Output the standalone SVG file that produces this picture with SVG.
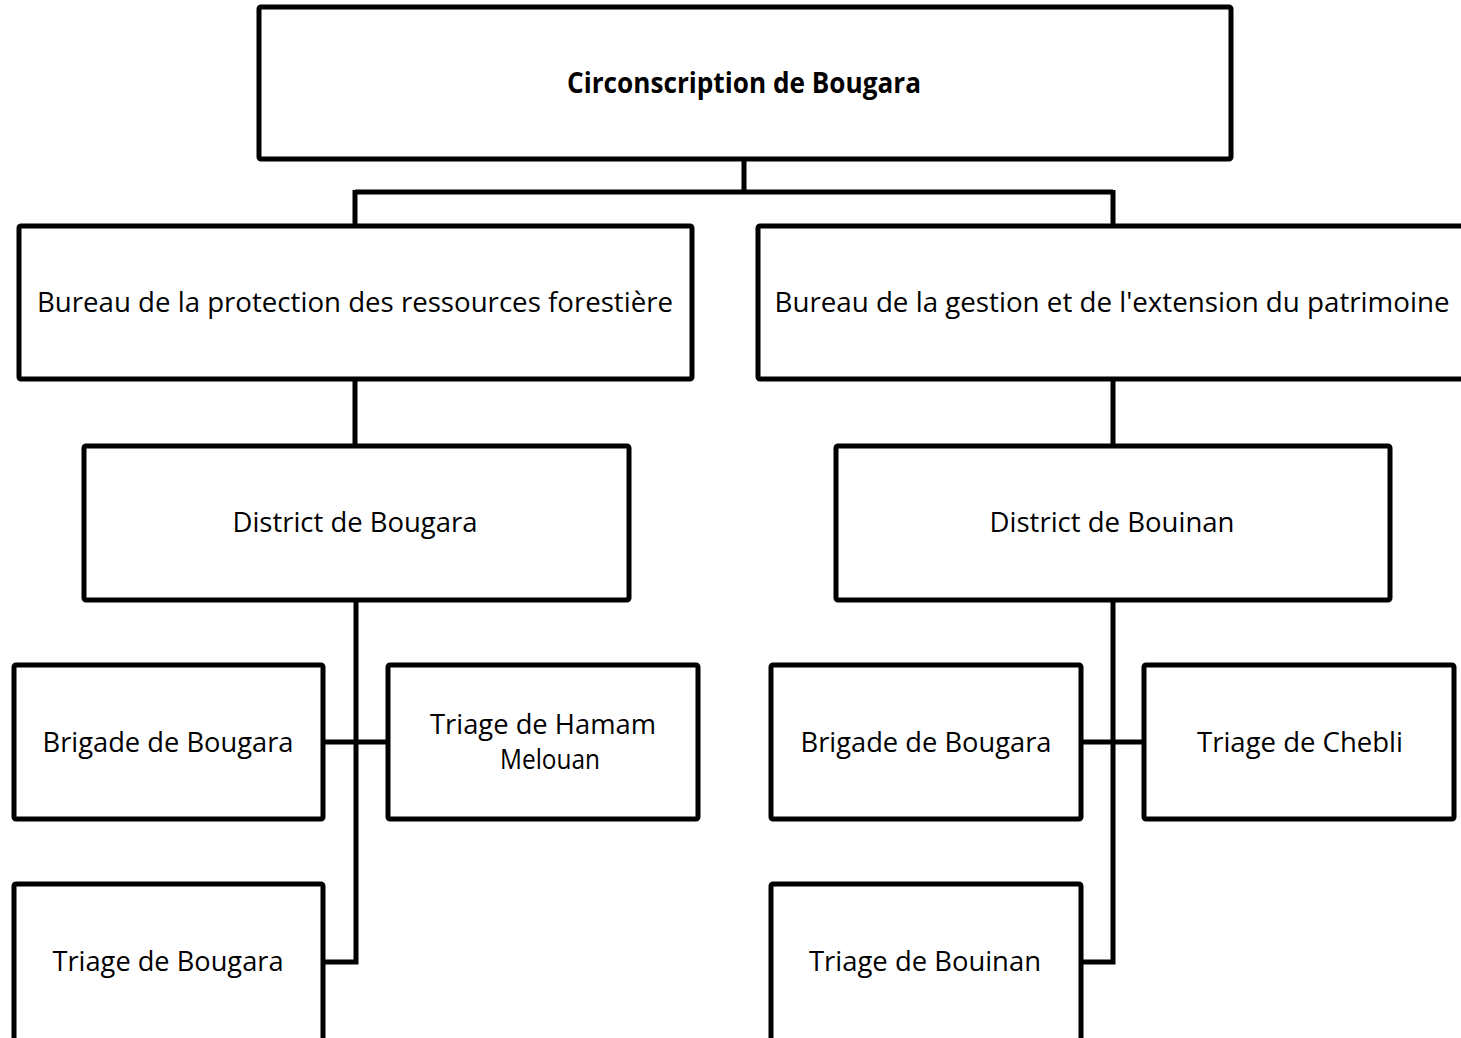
<svg xmlns="http://www.w3.org/2000/svg" width="1461" height="1038" viewBox="0 0 1461 1038">
  <style>
    .box { fill: #ffffff; stroke: #000000; stroke-width: 5; stroke-linejoin: round; }
    .link { fill: none; stroke: #000000; stroke-width: 5; stroke-linejoin: miter; }
    .lbl { font-family: "Open Sans", "Noto Sans", "Liberation Sans", sans-serif; font-size: 28px; fill: #000000; text-anchor: middle; }
    .bold { font-weight: bold; }
  </style>
  <rect x="0" y="0" width="1461" height="1038" fill="#ffffff"/>

  <!-- connectors -->
  <g id="connectors">
    <path class="link" d="M744 160 V192 M355 192 H1113 M355 190 V227 M1113 190 V227"/>
    <path class="link" d="M355 380 V445 M1113 380 V445"/>
    <path class="link" d="M356 600 V962 H323 M323 742 H388"/>
    <path class="link" d="M1113 600 V962 H1081 M1081 742 H1144"/>
  </g>

  <g id="circonscription">
    <rect class="box" x="259" y="7" width="972" height="152" rx="2"/>
    <text class="lbl bold" x="744" y="93" textLength="354" lengthAdjust="spacingAndGlyphs">Circonscription de Bougara</text>
  </g>

  <g id="bureau-protection">
    <rect class="box" x="19" y="226" width="673" height="153" rx="2"/>
    <text class="lbl" x="355" y="312" textLength="636" lengthAdjust="spacingAndGlyphs">Bureau de la protection des ressources forestière</text>
  </g>

  <g id="bureau-gestion">
    <rect class="box" x="758" y="226" width="710" height="153" rx="2"/>
    <text class="lbl" x="1112" y="312" textLength="675" lengthAdjust="spacingAndGlyphs">Bureau de la gestion et de l'extension du patrimoine</text>
  </g>

  <g id="district-bougara">
    <rect class="box" x="84" y="446" width="545" height="154" rx="2"/>
    <text class="lbl" x="355" y="532" textLength="245" lengthAdjust="spacingAndGlyphs">District de Bougara</text>
  </g>

  <g id="district-bouinan">
    <rect class="box" x="836" y="446" width="554" height="154" rx="2"/>
    <text class="lbl" x="1112" y="532" textLength="245" lengthAdjust="spacingAndGlyphs">District de Bouinan</text>
  </g>

  <g id="brigade-bougara-1">
    <rect class="box" x="14" y="665" width="309" height="154" rx="2"/>
    <text class="lbl" x="168" y="752" textLength="251" lengthAdjust="spacingAndGlyphs">Brigade de Bougara</text>
  </g>

  <g id="triage-hamam-melouan">
    <rect class="box" x="388" y="665" width="310" height="154" rx="2"/>
    <text class="lbl" x="543" y="734" textLength="226" lengthAdjust="spacingAndGlyphs">Triage de Hamam</text>
    <text class="lbl" x="550" y="769" textLength="100" lengthAdjust="spacingAndGlyphs">Melouan</text>
  </g>

  <g id="triage-bougara">
    <rect class="box" x="14" y="884" width="309" height="170" rx="2"/>
    <text class="lbl" x="168" y="971" textLength="231" lengthAdjust="spacingAndGlyphs">Triage de Bougara</text>
  </g>

  <g id="brigade-bougara-2">
    <rect class="box" x="771" y="665" width="310" height="154" rx="2"/>
    <text class="lbl" x="926" y="752" textLength="251" lengthAdjust="spacingAndGlyphs">Brigade de Bougara</text>
  </g>

  <g id="triage-chebli">
    <rect class="box" x="1144" y="665" width="310" height="154" rx="2"/>
    <text class="lbl" x="1300" y="752" textLength="206" lengthAdjust="spacingAndGlyphs">Triage de Chebli</text>
  </g>

  <g id="triage-bouinan">
    <rect class="box" x="771" y="884" width="310" height="170" rx="2"/>
    <text class="lbl" x="925" y="971" textLength="232" lengthAdjust="spacingAndGlyphs">Triage de Bouinan</text>
  </g>
</svg>
